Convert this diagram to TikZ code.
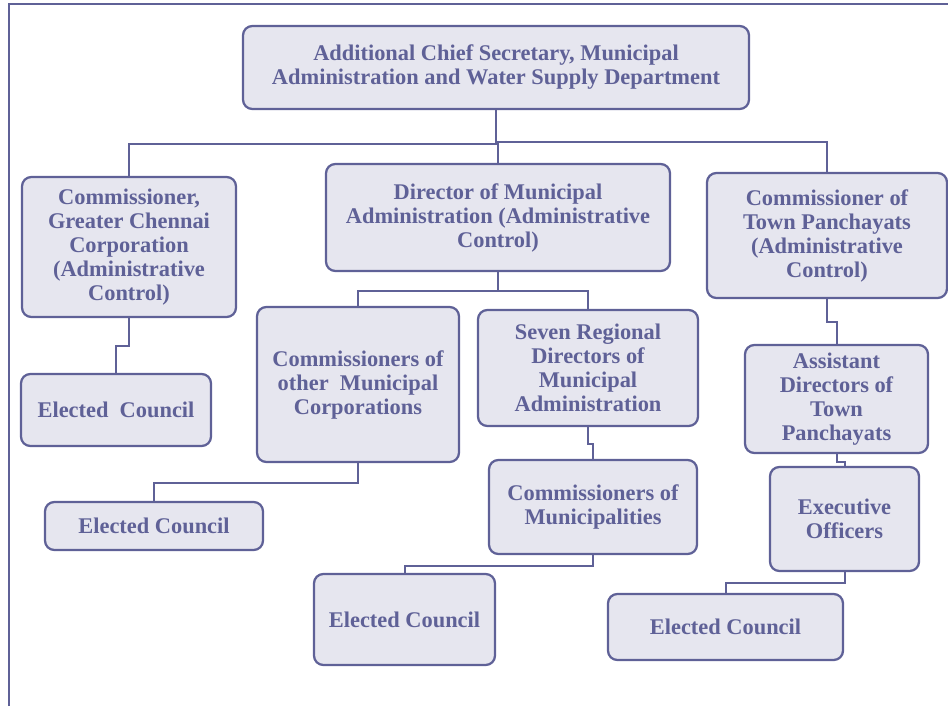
\documentclass[tikz,border=0pt]{standalone}
\usepackage{fontspec}
\setmainfont{Liberation Serif}
\usepackage{tikz}
\usetikzlibrary{positioning, calc}

\definecolor{orgline}{HTML}{5F6197}
\definecolor{orgfill}{HTML}{E6E6EF}

\begin{document}
\begin{tikzpicture}[
    x=0.75pt, y=-0.75pt,
    font=\fontsize{16.8}{18}\selectfont\bfseries,
    orgbox/.style={
      draw=orgline,
      fill=orgfill,
      text=orgline,
      line width=1.7pt,
      rounded corners=7pt,
      align=center,
      inner sep=0pt
    },
    link/.style={draw=orgline, line width=1.5pt}
]
\useasboundingbox (0,0) rectangle (948,706);

% frame
\draw[orgline, line width=1.1pt] (9,706) -- (9,4) -- (948,4);

% level 1
\node[orgbox, minimum width=379.5pt, minimum height=62.25pt] (acs) at (496,67.5)
  {Additional Chief Secretary, Municipal\\Administration and Water Supply Department};

% level 2
\node[orgbox, minimum width=160.5pt, minimum height=105pt] (gcc) at (129,247)
  {Commissioner,\\Greater Chennai\\Corporation\\(Administrative\\Control)};
\node[orgbox, minimum width=258pt, minimum height=80.25pt] (dma) at (498,217.5)
  {Director of Municipal\\Administration (Administrative\\Control)};
\node[orgbox, minimum width=180pt, minimum height=93.75pt] (ctp) at (827,235.5)
  {Commissioner of\\Town Panchayats\\(Administrative\\Control)};

% level 3
\node[orgbox, minimum width=142.5pt, minimum height=54pt] (ec1) at (116,410)
  {Elected\ \ Council};
\node[orgbox, minimum width=151.5pt, minimum height=116.25pt] (omc) at (358,384.5)
  {Commissioners of\\other\ \ Municipal\\Corporations};
\node[orgbox, minimum width=165pt, minimum height=87pt] (srd) at (588,368)
  {Seven Regional\\Directors of\\Municipal\\Administration};
\node[orgbox, minimum width=137.25pt, minimum height=81pt] (adtp) at (836.5,399)
  {Assistant\\Directors of\\Town\\Panchayats};

% level 4
\node[orgbox, minimum width=163.5pt, minimum height=36pt] (ec2) at (154,526)
  {Elected Council};
\node[orgbox, minimum width=156pt, minimum height=70.5pt] (cm) at (593,507)
  {Commissioners of\\Municipalities};
\node[orgbox, minimum width=111.75pt, minimum height=78pt] (eo) at (844.5,519)
  {Executive\\Officers};

% level 5
\node[orgbox, minimum width=135.75pt, minimum height=68.25pt] (ec3) at (404.5,619.5)
  {Elected Council};
\node[orgbox, minimum width=176.25pt, minimum height=49.5pt] (ec4) at (725.5,627)
  {Elected Council};

% connectors
\draw[link] (acs.south) -- ++(0,34) -| (gcc.north);
\draw[link] (acs.south) -- ++(0,32) -| (ctp.north);
\draw[link] (acs.south) -- ++(0,32) -| (dma.north);
\draw[link] (gcc.south) -- ++(0,28) -| (ec1.north);
\draw[link] (dma.south) -- ++(0,19) -| (omc.north);
\draw[link] (dma.south) -- ++(0,19) -| (srd.north);
\draw[link] (omc.south) -- ++(0,20) -| (ec2.north);
\draw[link] (srd.south) -- ++(0,17) -| (cm.north);
\draw[link] (cm.south) -- ++(0,11) -| (ec3.north);
\draw[link] (ctp.south) -- ++(0,23) -| (adtp.north);
\draw[link] (adtp.south) -- ++(0,8) -| (eo.north);
\draw[link] (eo.south) -- ++(0,11) -| (ec4.north);
\end{tikzpicture}
\end{document}
